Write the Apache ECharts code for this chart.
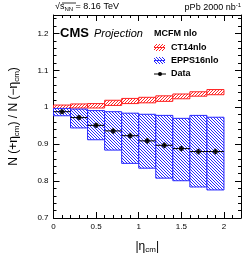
<!DOCTYPE html>
<html><head><meta charset="utf-8">
<script src="https://cdn.jsdelivr.net/npm/echarts@6/dist/echarts.min.js"></script>
<style>html,body{margin:0;padding:0;background:#fff}#c{width:249px;height:259px}</style>
</head><body><div id="c"></div>
<script>
const binLo = [0.0, 0.2, 0.4, 0.6, 0.8, 1.0, 1.2, 1.4, 1.6, 1.8];
const binHi = [0.2, 0.4, 0.6, 0.8, 1.0, 1.2, 1.4, 1.6, 1.8, 2.0];
const dataY = [0.988, 0.972, 0.951, 0.936, 0.923, 0.909, 0.897, 0.888, 0.880, 0.880];
const dataErr = [0.006, 0.007, 0.007, 0.008, 0.008, 0.008, 0.008, 0.008, 0.008, 0.008];
const ctLo = [0.995, 0.998, 0.998, 1.005, 1.010, 1.012, 1.016, 1.023, 1.030, 1.034];
const ctHi = [1.006, 1.009, 1.010, 1.019, 1.024, 1.027, 1.031, 1.036, 1.042, 1.048];
const eppsLo = [0.977, 0.944, 0.912, 0.884, 0.848, 0.835, 0.808, 0.801, 0.784, 0.776];
const eppsHi = [0.997, 0.995, 0.991, 0.988, 0.984, 0.981, 0.978, 0.970, 0.978, 0.973];
const xTicks = [0, 0.5, 1, 1.5, 2];
const yTicks = [0.7, 0.8, 0.9, 1, 1.1, 1.2];

const FONT = '"Liberation Sans", Arial, sans-serif';

function hatch(rgb, up, period) {
  const c = document.createElement('canvas');
  c.width = period; c.height = period;
  const g = c.getContext('2d');
  const img = g.createImageData(period, period);
  for (let y = 0; y < period; y++) {
    for (let x = 0; x < period; x++) {
      const k = (y * period + x) * 4;
      const on = up ? ((x + y) % period === period - 1) : ((x - y + period) % period === 0);
      img.data[k] = on ? rgb[0] : 255;
      img.data[k + 1] = on ? rgb[1] : 255;
      img.data[k + 2] = on ? rgb[2] : 255;
      img.data[k + 3] = 255;
    }
  }
  g.putImageData(img, 0, 0);
  return c;
}
const redPat = () => ({ image: hatch([255, 40, 40], true, 3), repeat: 'repeat' });
const bluePat = () => ({ image: hatch([40, 40, 255], false, 3), repeat: 'repeat' });

const ctData = binLo.map((v, i) => [v, binHi[i], ctLo[i], ctHi[i]]);
const eppsData = binLo.map((v, i) => [v, binHi[i], eppsLo[i], eppsHi[i]]);
const errData = binLo.map((v, i) => [v, binHi[i], dataY[i], dataErr[i]]);
const ptData = binLo.map((v, i) => [(v + binHi[i]) / 2, dataY[i]]);

function boxRender(pat, stroke) {
  return function (params, api) {
    const p0 = api.coord([api.value(0), api.value(3)]);
    const p1 = api.coord([api.value(1), api.value(2)]);
    return {
      type: 'rect',
      shape: { x: p0[0], y: p0[1], width: p1[0] - p0[0], height: p1[1] - p0[1] },
      style: { fill: pat, stroke: stroke, lineWidth: 1 }
    };
  };
}

const axisCommon = {
  axisLine: { show: true, onZero: false, lineStyle: { color: '#000', width: 1 } },
  axisTick: { show: true, inside: true, length: 6, lineStyle: { color: '#000' } },
  minorTick: { show: true, splitNumber: 5, length: 3, lineStyle: { color: '#000' } },
  splitLine: { show: false },
  minorSplitLine: { show: false }
};

const seriesRed = redPat(), seriesBlue = bluePat();
const legRed = redPat(), legBlue = bluePat();

const chart = echarts.init(document.getElementById('c'), null, { renderer: 'canvas' });
chart.setOption({
  animation: false,
  textStyle: { fontFamily: FONT },
  grid: { left: 52, right: 8, top: 15, bottom: 39 },
  xAxis: [
    Object.assign({}, axisCommon, {
      type: 'value', min: 0, max: 2.2, interval: 0.5, position: 'bottom',
      axisLabel: { show: true, fontSize: 8, color: '#000', margin: 5, showMaxLabel: false,
        formatter: v => (xTicks.indexOf(v) >= 0 ? String(v) : '') },
      name: '{a||η}{s|cm}{a||}', nameLocation: 'middle', nameGap: 22,
      nameTextStyle: { rich: {
        a: { fontSize: 12, color: '#000', fontFamily: FONT },
        s: { fontSize: 8, color: '#000', fontFamily: FONT, verticalAlign: 'bottom', padding: [6, 0, 0, 0] }
      } }
    }),
    Object.assign({}, axisCommon, {
      type: 'value', min: 0, max: 2.2, interval: 0.5, position: 'top',
      axisLabel: { show: false }
    })
  ],
  yAxis: [
    Object.assign({}, axisCommon, {
      type: 'value', min: 0.7, max: 1.25, interval: 0.1, position: 'left',
      axisLabel: { show: true, fontSize: 8, color: '#000', margin: 5, showMaxLabel: false,
        formatter: v => { const r = Math.round(v * 10) / 10; return yTicks.indexOf(r) >= 0 ? String(r) : ''; } },
      name: '{a|N (+η}{s|cm}{a|) / N (−η}{s|cm}{a|)}', nameLocation: 'middle', nameRotate: 90, nameGap: 33,
      nameTextStyle: { rich: {
        a: { fontSize: 12, color: '#000', fontFamily: FONT },
        s: { fontSize: 8, color: '#000', fontFamily: FONT, padding: [5, 0, 0, 0] }
      } }
    }),
    Object.assign({}, axisCommon, {
      type: 'value', min: 0.7, max: 1.25, interval: 0.1, position: 'right',
      axisLabel: { show: false }
    })
  ],
  series: [
    { type: 'custom', name: 'CT14nlo', xAxisIndex: 0, yAxisIndex: 0, data: ctData,
      encode: { x: [0, 1], y: [2, 3] }, renderItem: boxRender(seriesRed, '#ff2020'), z: 2 },
    { type: 'custom', name: 'EPPS16nlo', xAxisIndex: 0, yAxisIndex: 0, data: eppsData,
      encode: { x: [0, 1], y: [2, 3] }, renderItem: boxRender(seriesBlue, '#2828ff'), z: 3 },
    { type: 'custom', name: 'Data err', xAxisIndex: 0, yAxisIndex: 0, data: errData,
      encode: { x: [0, 1], y: 2 }, z: 4,
      renderItem: function (params, api) {
        const y = api.value(2), e = api.value(3);
        const xc = (api.value(0) + api.value(1)) / 2;
        const a = api.coord([api.value(0), y]);
        const b = api.coord([api.value(1), y]);
        const t = api.coord([xc, y + e]);
        const d = api.coord([xc, y - e]);
        return { type: 'group', children: [
          { type: 'line', shape: { x1: a[0], y1: a[1], x2: b[0], y2: b[1] }, style: { stroke: '#000', lineWidth: 1 } },
          { type: 'line', shape: { x1: t[0], y1: t[1], x2: d[0], y2: d[1] }, style: { stroke: '#000', lineWidth: 1 } }
        ] };
      } },
    { type: 'scatter', name: 'Data', data: ptData, symbol: 'circle', symbolSize: 5,
      itemStyle: { color: '#000' }, z: 5 }
  ],
  graphic: [
    { type: 'text', left: 55, top: 2, style: { text: '√{s|s}{n|NN} = 8.16 TeV', fontSize: 9, fill: '#000', fontFamily: FONT,
      rich: { s: { fontSize: 9, fontFamily: FONT }, n: { fontSize: 6, fontFamily: FONT, padding: [5, 0, 0, 0] } } } },
    { type: 'line', shape: { x1: 62, y1: 3, x2: 76, y2: 3 }, style: { stroke: '#000', lineWidth: 0.8 } },
    { type: 'text', right: 8, top: 2, style: { text: 'pPb 2000 nb{u|-1}', fontSize: 9, fill: '#000', fontFamily: FONT,
      rich: { u: { fontSize: 6, fontFamily: FONT, padding: [0, 0, 5, 0] } } } },
    { type: 'text', left: 60, top: 27, style: { text: 'CMS', fontSize: 13, fontWeight: 'bold', fill: '#000', fontFamily: FONT } },
    { type: 'text', left: 94, top: 28, style: { text: 'Projection', fontSize: 11, fontStyle: 'italic', fill: '#000', fontFamily: FONT } },
    { type: 'text', left: 154, top: 29, style: { text: 'MCFM nlo', fontSize: 9, fontWeight: 'bold', fill: '#000', fontFamily: FONT } },
    { type: 'rect', shape: { x: 154, y: 44, width: 11, height: 7 }, style: { fill: legRed }, z: 100 },
    { type: 'line', shape: { x1: 154, y1: 47.5, x2: 165, y2: 47.5 }, style: { stroke: '#ff2020', lineWidth: 1 }, z: 101 },
    { type: 'text', left: 171, top: 43, style: { text: 'CT14nlo', fontSize: 9, fontWeight: 'bold', fill: '#000', fontFamily: FONT } },
    { type: 'rect', shape: { x: 154, y: 57, width: 11, height: 7 }, style: { fill: legBlue }, z: 100 },
    { type: 'line', shape: { x1: 154, y1: 60.5, x2: 165, y2: 60.5 }, style: { stroke: '#2828ff', lineWidth: 1 }, z: 101 },
    { type: 'text', left: 171, top: 56, style: { text: 'EPPS16nlo', fontSize: 9, fontWeight: 'bold', fill: '#000', fontFamily: FONT } },
    { type: 'line', shape: { x1: 154, y1: 74, x2: 166, y2: 74 }, style: { stroke: '#000', lineWidth: 1 } },
    { type: 'circle', shape: { cx: 160, cy: 74, r: 2 }, style: { fill: '#000' } },
    { type: 'text', left: 171, top: 69, style: { text: 'Data', fontSize: 9, fontWeight: 'bold', fill: '#000', fontFamily: FONT } }
  ]
});
</script></body></html>
